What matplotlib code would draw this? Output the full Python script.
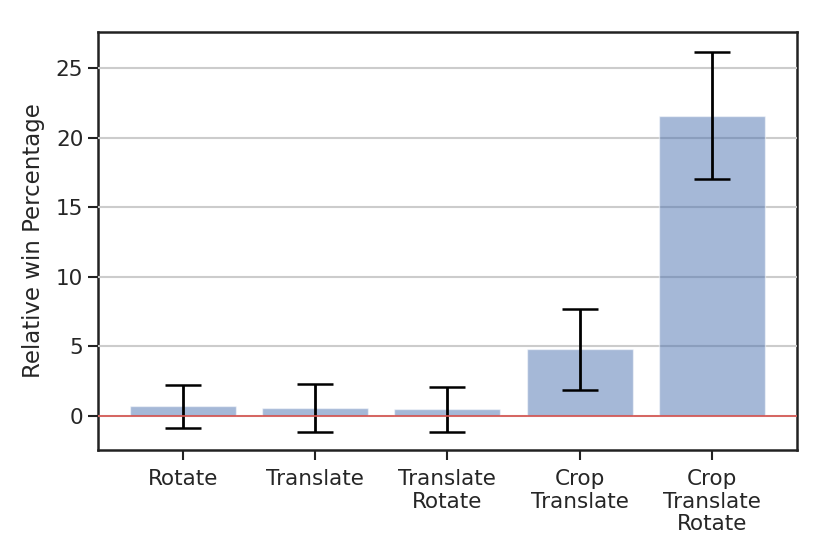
import numpy as np
import matplotlib
matplotlib.use("Agg")
import matplotlib.pyplot as plt
import seaborn as sns

# data
labels = ["Rotate", "Translate", "Translate\nRotate", "Crop\nTranslate", "Crop\nTranslate\nRotate"]
means = [0.68, 0.58, 0.47, 4.78, 21.6]
errors = [1.55, 1.72, 1.62, 2.9, 4.6]

sns.set_style("ticks")
plt.rcParams['font.family'] = ['DejaVu Sans']

fig = plt.figure(figsize=(8.3, 5.54), dpi=100)
ax = fig.add_axes([0.118, 0.188, 0.842, 0.754])

x = np.arange(len(labels))
ax.bar(x, means, width=0.8, color='#4c72b0', alpha=0.5, zorder=3)
ax.errorbar(x, means, yerr=errors, fmt='none', ecolor='black', elinewidth=2,
            capsize=13, capthick=1.8, zorder=4)
ax.axhline(0, color='#d9534f', linewidth=1.2, zorder=5)

ax.yaxis.grid(True, color='#cccccc', linewidth=1.5, zorder=4)
ax.set_axisbelow(False)
ax.set_xticks(x)
ax.set_xticklabels(labels, fontsize=15.5, linespacing=1.15)
ax.tick_params(axis='y', labelsize=15.5)
ax.tick_params(axis='x', pad=7)
ax.set_yticks([0, 5, 10, 15, 20, 25])
ax.set_ylim(-2.45, 27.6)
ax.set_ylabel("Relative win Percentage", fontsize=16.5, labelpad=8)
for s in ax.spines.values():
    s.set_linewidth(1.8)
    s.set_color('#222222')
ax.tick_params(width=1.5, length=7, color='#222222')

fig.savefig("out.png", dpi=100)
